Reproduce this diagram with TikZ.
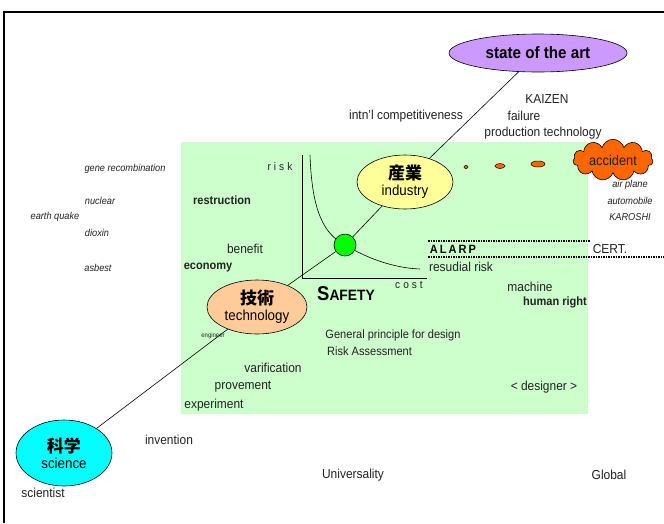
\documentclass[tikz,border=0pt]{standalone}
\usepackage{fontspec}
\setmainfont[FakeStretch=0.92]{Liberation Sans}
\newfontfamily\cjk{Noto Sans CJK JP}
\usetikzlibrary{shapes.geometric,shapes.symbols}
\definecolor{bggreen}{HTML}{CCFFCC}
\definecolor{violetfill}{HTML}{CC99FF}
\definecolor{yellowfill}{HTML}{FFFF99}
\definecolor{peachfill}{HTML}{FFCC99}
\definecolor{cyanfill}{HTML}{00FFFF}
\definecolor{orangefill}{HTML}{FF6600}
\definecolor{txt}{HTML}{222222}
\begin{document}
\begin{tikzpicture}[x=1pt,y=-1pt,
  lbl/.style={inner sep=0pt,font=\fontsize{13}{15}\selectfont,text=txt},
  blbl/.style={lbl,font=\fontsize{12}{14}\selectfont\bfseries},
  ilbl/.style={inner sep=0pt,font=\fontsize{10}{12}\selectfont\itshape,text=txt},
  bubble/.style={ellipse,draw,line width=0.6pt,inner sep=0pt,align=center},
  conn/.style={line width=0.6pt}]
\useasboundingbox (0,0) rectangle (664,523);
\fill[white] (0,0) rectangle (664,523);
% frame
\draw[line width=2pt] (4,523) -- (4,12) -- (664,12);
% green background
\fill[bggreen] (181,142) rectangle (588,414);
% risk graph
\draw[line width=0.6pt] (302,155) -- (302,278) -- (427,278);
\draw[line width=0.6pt] (310,155) .. controls (312,212) and (324,234) .. (345,245) .. controls (365,257) and (392,268) .. (420,269);
\node[lbl,font=\fontsize{11}{13}\selectfont] (risk) at (280,167) {r\hspace{3pt}i\hspace{3pt}s\hspace{3pt}k};
\node[lbl,font=\fontsize{11}{13}\selectfont] (cost) at (409,285) {c\hspace{3pt}o\hspace{3pt}s\hspace{3pt}t};
\node[inner sep=0pt,font=\fontsize{20}{22}\selectfont\bfseries] (safety) at (346,294) {S{\fontsize{15}{17}\selectfont AFETY}};
% nodes
\node[bubble,fill=violetfill,minimum width=178pt,minimum height=38pt,font=\fontsize{16.5}{18}\selectfont\bfseries] (art) at (538,53) {state of the art};
\node[bubble,fill=yellowfill,minimum width=96pt,minimum height=54pt] (ind) at (405,182) {{\cjk\fontsize{17}{18}\selectfont\bfseries 産業}\\[3pt]{\fontsize{14.5}{16}\selectfont industry}};
\node[circle,draw,line width=0.6pt,fill=green,minimum size=22pt,inner sep=0pt] (safe) at (345,245) {};
\node[bubble,fill=peachfill,minimum width=100pt,minimum height=54pt] (tech) at (257,307) {{\cjk\fontsize{17}{18}\selectfont\bfseries 技術}\\[3pt]{\fontsize{14.5}{16}\selectfont technology}};
\node[bubble,fill=cyanfill,minimum width=96pt,minimum height=66pt] (sci) at (64,453) {{\cjk\fontsize{17}{18}\selectfont\bfseries 科学}\\[3pt]{\fontsize{14.5}{16}\selectfont science}};
\draw[conn] (art) -- (ind);
\draw[conn] (ind) -- (safe);
\draw[conn] (safe) -- (tech);
\draw[conn] (tech) -- (sci);
% accident
\node[cloud,cloud puffs=11,aspect=2.6,draw,line width=0.6pt,fill=orangefill,inner sep=1pt,minimum width=80pt,minimum height=34pt,font=\fontsize{14}{16}\selectfont,text=txt] (acc) at (613,160) {accident};
\node[ellipse,draw,line width=0.5pt,fill=orangefill,minimum width=4pt,minimum height=3pt,inner sep=0pt] (d1) at (466,167) {};
\node[ellipse,draw,line width=0.5pt,fill=orangefill,minimum width=10pt,minimum height=5pt,inner sep=0pt] (d2) at (500,166) {};
\node[ellipse,draw,line width=0.5pt,fill=orangefill,minimum width=14pt,minimum height=6pt,inner sep=0pt] (d3) at (538,164) {};
\node[ilbl] (air) at (630,185) {air plane};
\node[ilbl] (auto) at (630,201) {automobile};
\node[ilbl] (karo) at (630,217) {KAROSHI};
% ALARP
\draw[line width=1.5pt,densely dotted] (428,241) -- (590,241);
\draw[line width=1.5pt,densely dotted] (428,257) -- (664,257);
\node[inner sep=0pt,font=\fontsize{12}{14}\selectfont\bfseries] (alarp) at (453,249) {A\,L\,A\,R\,P};
\node[lbl] (cert) at (610,249) {CERT.};
\node[lbl] (resid) at (461,267) {resudial risk};
\node[lbl] (mach) at (530,287) {machine};
\node[blbl] (human) at (555,302) {human right};
\node[lbl,font=\fontsize{12}{14}\selectfont] (gen) at (393,335) {General principle for design};
\node[lbl,font=\fontsize{12}{14}\selectfont,anchor=west] (ra) at (327,351) {Risk Assessment};
\node[lbl] (var) at (273,368) {varification};
\node[lbl] (prov) at (243,387) {provement};
\node[lbl] (exp) at (214,405) {experiment};
\node[lbl,font=\fontsize{6.5}{7}\selectfont] (eng) at (213,336) {engineer};
\node[lbl] (des) at (544,387) {< designer >};
\node[lbl] (inv) at (169,440) {invention};
\node[lbl] (univ) at (353,475) {Universality};
\node[lbl] (glob) at (609,475) {Global};
\node[lbl] (scit) at (43,493) {scientist};
% top labels
\node[lbl] (comp) at (406,116) {intn'l competitiveness};
\node[lbl] (kai) at (547,99) {KAIZEN};
\node[lbl] (fail) at (524,116) {failure};
\node[lbl] (prod) at (543,133) {production technology};
% left labels
\node[ilbl] (gene) at (125,169) {gene recombination};
\node[ilbl] (nuc) at (100,201) {nuclear};
\node[ilbl] (eq) at (55,217) {earth quake};
\node[ilbl] (diox) at (97,233) {dioxin};
\node[ilbl] (asb) at (98,268) {asbest};
\node[blbl] (restr) at (222,200) {restruction};
\node[lbl] (ben) at (245,249) {benefit};
\node[blbl] (econ) at (208,268) {economy};
\end{tikzpicture}
\end{document}
